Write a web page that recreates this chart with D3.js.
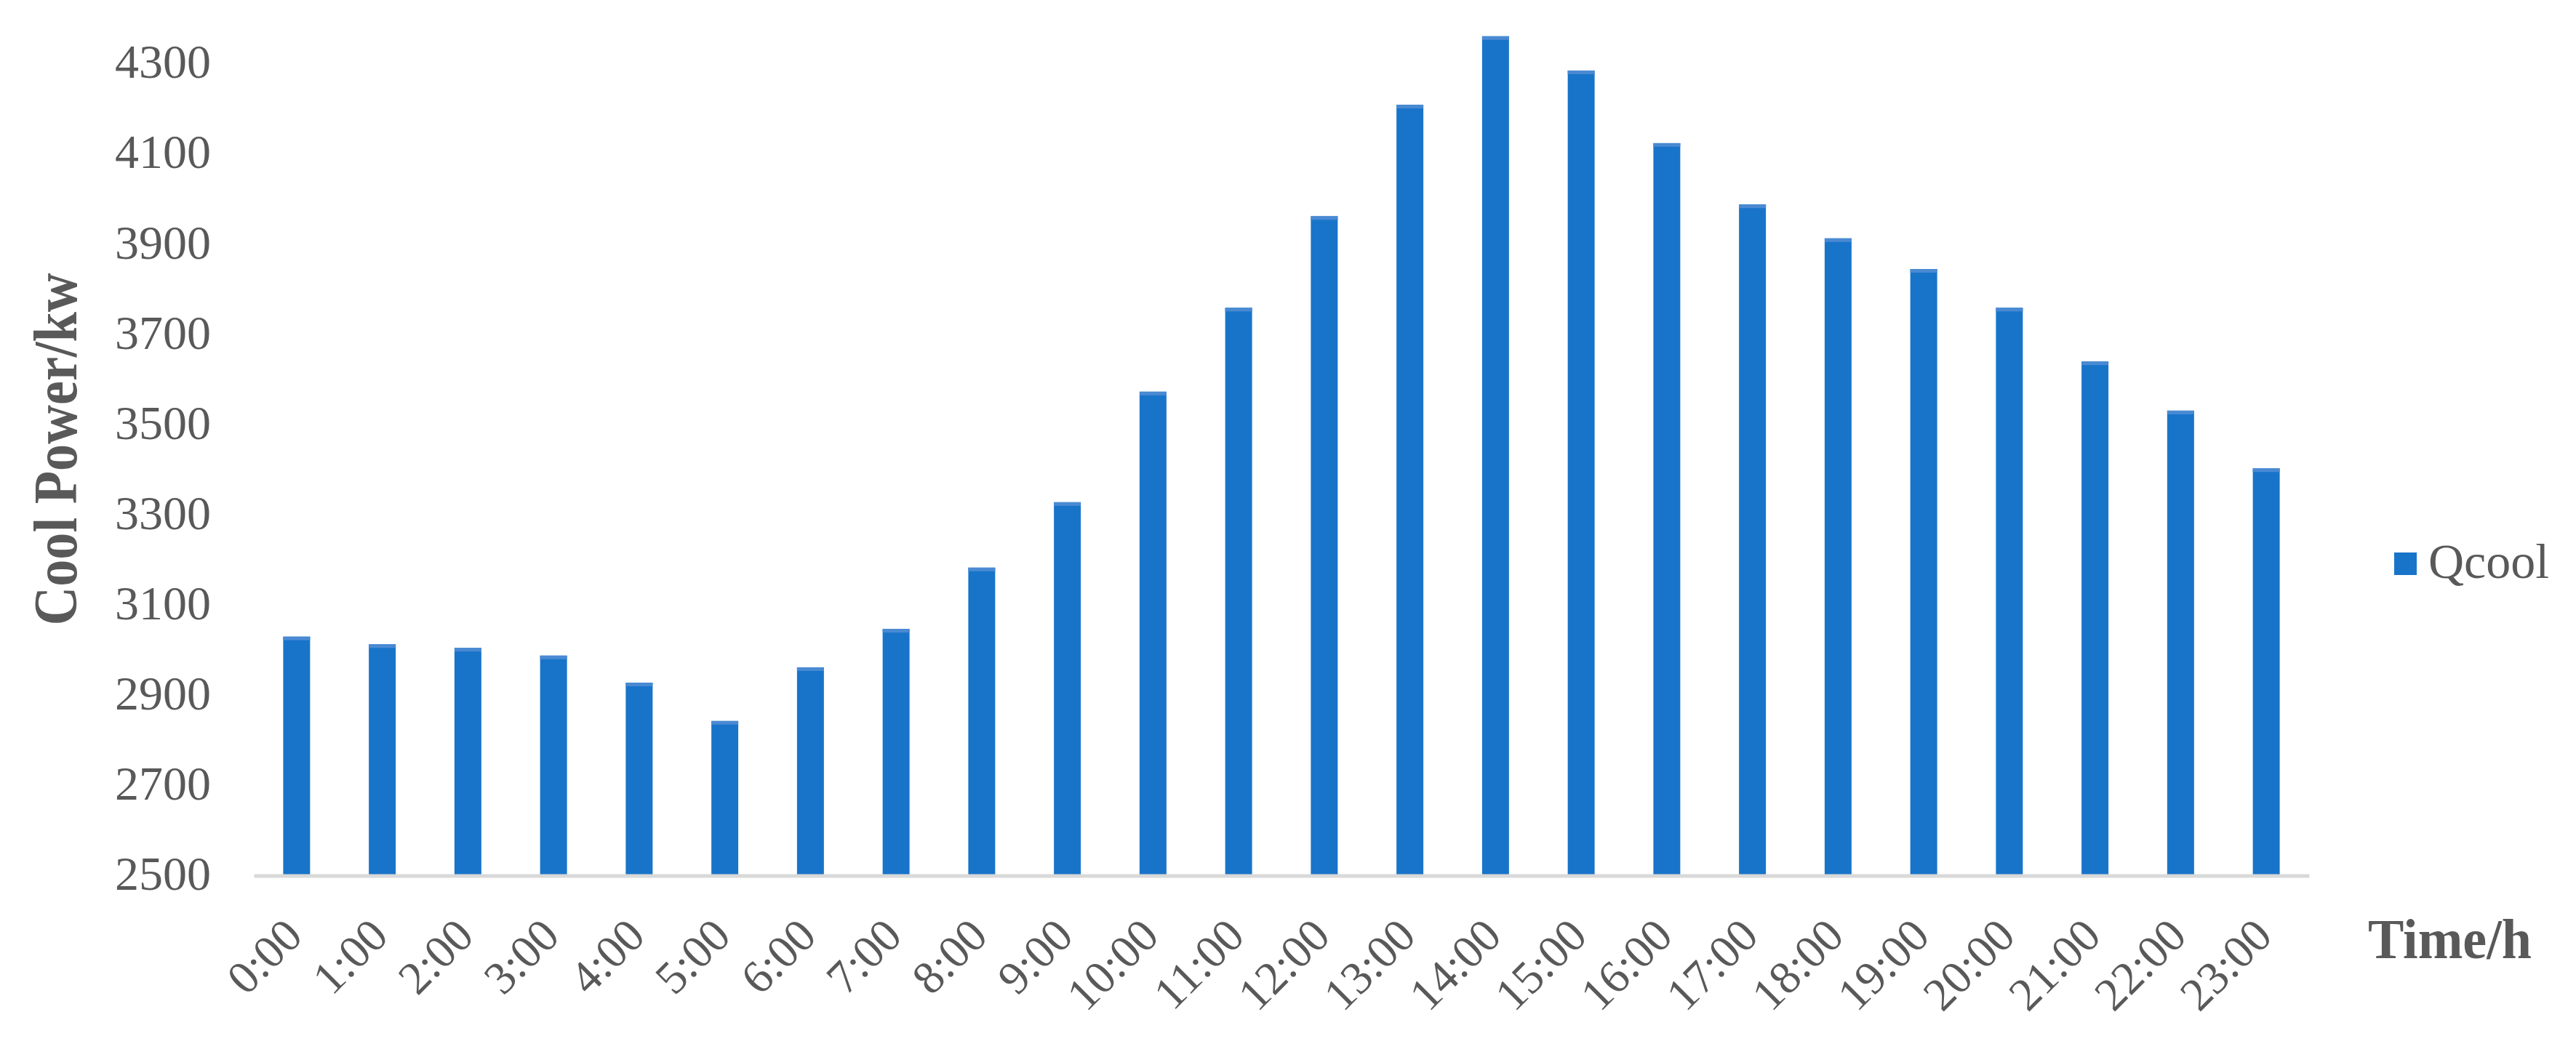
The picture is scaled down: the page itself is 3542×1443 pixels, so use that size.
<!DOCTYPE html>
<html>
<head>
<meta charset="utf-8">
<script src="https://cdn.jsdelivr.net/npm/d3@7"></script>
<style>
  body{margin:0;background:#fff;}
  text{font-family:"Liberation Serif","Times New Roman",serif;fill:#595959;}
</style>
</head>
<body>
<svg id="chart"></svg>
<script>
//data
var hours=["0:00","1:00","2:00","3:00","4:00","5:00","6:00","7:00","8:00","9:00","10:00","11:00",
  "12:00","13:00","14:00","15:00","16:00","17:00","18:00","19:00","20:00","21:00","22:00","23:00"]
var qcool=[3029,3012,3004,2987,2927,2842,2961,3046,3182,3327,3572,3758,
  3961,4208,4360,4284,4123,3987,3912,3844,3758,3639,3530,3402]
var yTicks=[2500,2700,2900,3100,3300,3500,3700,3900,4100,4300]
var seriesName="Qcool"
var yTitle="Cool Power/kw"
var xTitle="Time/h"

var screen={width:3542,height:1443}
//plot box in pixels
var plot={left:349,right:3175,bottom:1204,top:25}
var barColor="#1874c9"

var svg=d3.select("#chart")
    .attr("width",screen.width)
    .attr("height",screen.height)

var xScale=d3.scaleBand()
    .domain(hours)
    .range([plot.left,plot.right])
    .paddingInner(0.686)
    .paddingOuter(0.343)
var yScale=d3.scaleLinear()
    .domain([2500,4400])
    .range([plot.bottom,plot.top])

//bars
var bars=svg.append("g").classed("bars",true)
    .selectAll("g")
    .data(qcool)
    .enter()
    .append("g")
bars.append("rect")
    .attr("x",function(d,i){return xScale(hours[i])})
    .attr("y",function(d){return yScale(d)})
    .attr("width",xScale.bandwidth())
    .attr("height",function(d){return yScale(2500)-yScale(d)})
    .attr("fill",barColor)
//light strip on top like the original
bars.append("rect")
    .attr("x",function(d,i){return xScale(hours[i])})
    .attr("y",function(d){return yScale(d)})
    .attr("width",xScale.bandwidth())
    .attr("height",5)
    .attr("fill","#4a8ad3")

//y axis, labels only
var yAxis=svg.append("g")
    .attr("transform","translate(290,0)")
    .call(d3.axisLeft(yScale).tickValues(yTicks).tickSize(0).tickPadding(0).tickFormat(d3.format("d")))
yAxis.select(".domain").remove()
yAxis.selectAll("text")
    .attr("x",0)
    .attr("dy","0.3em")
    .style("font-family","'Liberation Serif','Times New Roman',serif")
    .style("font-size","66px")
    .style("fill","#595959")

//x axis with grey base line
var xAxis=svg.append("g")
    .attr("transform","translate(0,"+(plot.bottom+0.5)+")")
    .call(d3.axisBottom(xScale).tickSize(0).tickSizeOuter(0))
xAxis.select(".domain")
    .attr("stroke","#d9d9d9")
    .attr("stroke-width",5)
xAxis.selectAll("text")
    .attr("x",0)
    .attr("y",0)
    .attr("dy",0)
    .attr("text-anchor","end")
    .attr("transform","translate(11,86) rotate(-45)")
    .style("font-family","'Liberation Serif','Times New Roman',serif")
    .style("font-size","64px")
    .style("fill","#595959")

//axis titles
svg.append("text")
    .attr("transform","translate(105,618) rotate(-90)")
    .attr("text-anchor","middle")
    .attr("textLength",485)
    .attr("lengthAdjust","spacingAndGlyphs")
    .style("font-size","84px")
    .style("font-weight","bold")
    .text(yTitle)
svg.append("text")
    .attr("x",3256)
    .attr("y",1318)
    .attr("textLength",225)
    .attr("lengthAdjust","spacingAndGlyphs")
    .style("font-size","78px")
    .style("font-weight","bold")
    .text(xTitle)

//legend
var legend=svg.append("g").attr("transform","translate(3292,760)")
legend.append("rect")
    .attr("width",31)
    .attr("height",31)
    .attr("fill",barColor)
legend.append("text")
    .attr("x",47)
    .attr("y",35)
    .style("font-size","68px")
    .text(seriesName)
</script>
</body>
</html>
